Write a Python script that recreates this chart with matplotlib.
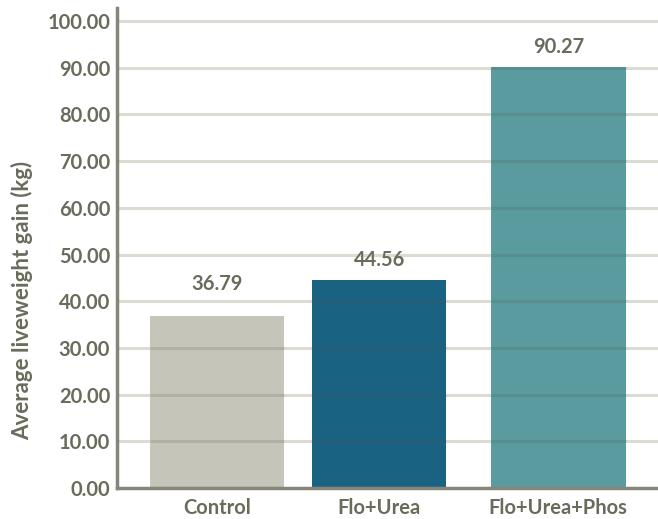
import matplotlib.pyplot as plt

categories = ["Control", "Flo+Urea", "Flo+Urea+Phos"]
gain = [36.79, 44.56, 90.27]
bar_colors = ["#c5c5b9", "#1a6282", "#5a9ba0"]
yticks = [0, 10, 20, 30, 40, 50, 60, 70, 80, 90, 100]

text_color = "#6b6b5c"
axis_color = "#85857a"
grid_color = "#dcdcd4"

plt.rcParams["font.family"] = ["Lato", "DejaVu Sans"]

fig = plt.figure(figsize=(6.58, 5.19), dpi=100)
ax = fig.add_axes([117 / 658, 1 - 488 / 519, 541 / 658, 480 / 519])

# third bar sits a bit further out than the first two
xpos = [0, 1, 2.105]
bars = ax.bar(xpos, gain, width=0.83, color=bar_colors, zorder=1)

# label offsets in pixels above each bar top
label_pad = [22, 10, 10]
for b, v, pad in zip(bars, gain, label_pad):
    ax.annotate(f"{v:.2f}", (b.get_x() + b.get_width() / 2, v),
                xytext=(0, pad * 0.72), textcoords="offset points",
                ha="center", va="bottom", fontsize=14.5,
                fontweight="bold", color=text_color)

ax.set_xlim(-0.617, 2.72)
ax.set_ylim(0, 102.8)
ax.set_yticks(yticks)
ax.set_yticklabels([f"{t:.2f}" for t in yticks])
ax.set_xticks(xpos)
ax.set_xticklabels(categories)

# light gridlines on the background, darker tint where they cross a bar
for t in yticks[1:]:
    ax.axhline(t, color=grid_color, lw=2.2, zorder=0)
    for b in bars:
        if b.get_height() > t:
            ax.hlines(t, b.get_x(), b.get_x() + b.get_width(),
                      color="#55554a", lw=2.2, alpha=0.18, zorder=2)

for s in ["top", "right"]:
    ax.spines[s].set_visible(False)
for s in ["left", "bottom"]:
    ax.spines[s].set_color(axis_color)
    ax.spines[s].set_linewidth(2.5)
    ax.spines[s].set_zorder(3)

ax.tick_params(axis="both", length=0, colors=text_color, labelsize=14.5)
ax.tick_params(axis="y", pad=5)
ax.tick_params(axis="x", pad=7)
for lab in ax.get_xticklabels() + ax.get_yticklabels():
    lab.set_fontweight("bold")

ax.set_ylabel("Average liveweight gain (kg)", fontsize=16,
              fontweight="bold", color=text_color, va="center")
ax.yaxis.set_label_coords(-0.176, 0.39)

fig.savefig("out.png", dpi=100)
